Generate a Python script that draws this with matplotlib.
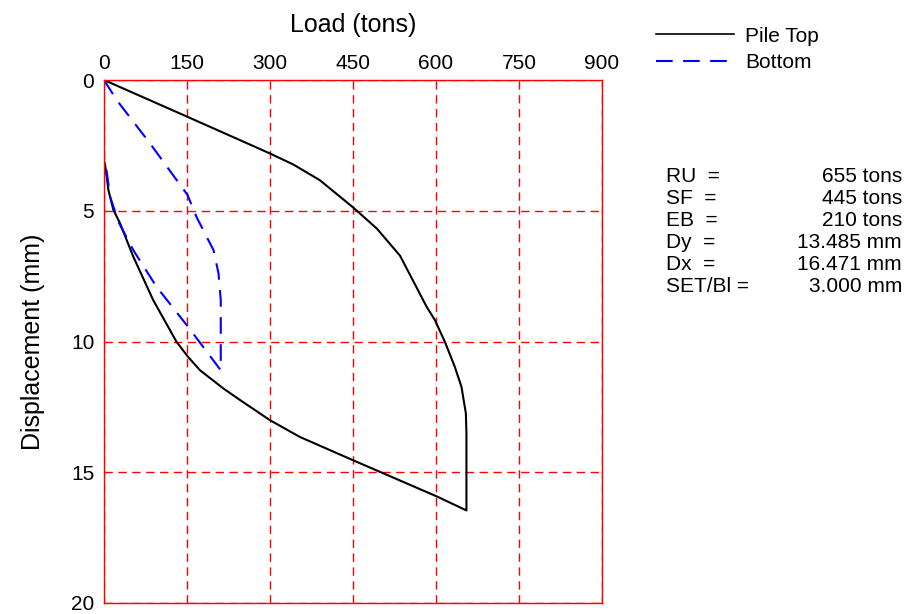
import matplotlib.pyplot as plt
import matplotlib.lines as mlines

plt.rcParams['font.family'] = ['Liberation Sans', 'DejaVu Sans']

# Pile Top curve (load in tons, displacement in mm)
top_load = [0, 150, 282, 302, 342, 390, 450, 493, 529, 535, 583, 598, 616, 634,
            646, 654, 655, 655,
            601, 450, 354, 300, 246, 216, 173.5, 152, 131, 89, 53, 29, 17, 8, 2, 0]
top_disp = [0, 1.40, 2.64, 2.83, 3.23, 3.83, 4.87, 5.68, 6.57, 6.72, 8.67, 9.18, 10.01, 10.97,
            11.73, 12.75, 13.52, 16.46,
            15.92, 14.54, 13.65, 13.01, 12.24, 11.8, 11.1, 10.59, 10.01, 8.42, 6.76, 5.48, 4.97, 4.21, 3.25, 3.1]

# Bottom curve
bot_load = [0, 23, 83, 151, 167, 198, 207, 211, 211,
            152, 95, 53, 26, 11, 2, 0]
bot_disp = [0, 0.77, 2.42, 4.40, 5.23, 6.51, 7.40, 8.42, 11.1,
            9.44, 7.91, 6.51, 5.42, 4.46, 3.06, 3.0]

x_ticks = [0, 150, 300, 450, 600, 750, 900]
y_ticks = [0, 5, 10, 15, 20]

stat_names = ["RU  =", "SF  =", "EB  =", "Dy  =", "Dx  =", "SET/Bl ="]
stat_values = ["655 tons", "445 tons", "210 tons", "13.485 mm", "16.471 mm", "3.000 mm"]

fig = plt.figure(figsize=(9.07, 6.14), dpi=100)
ax = fig.add_axes([104/907, 11/614, 498/907, 523/614])

ax.plot(top_load, top_disp, color='black', lw=1.5, label='Pile Top')
ax.plot(bot_load, bot_disp, color='blue', lw=1.5, dashes=(8, 5), label='Bottom')

ax.set_xlim(0, 900)
ax.set_ylim(20, 0)
ax.set_xticks(x_ticks)
ax.set_yticks(y_ticks)
ax.xaxis.tick_top()
ax.xaxis.set_label_position('top')
ax.tick_params(length=0, labelsize=15, pad=7)
ax.tick_params(axis='x', pad=5)
ax.set_xlabel('Load (tons)', fontsize=18, labelpad=16)
ax.set_ylabel('Displacement (mm)', fontsize=18, labelpad=19)

for s in ax.spines.values():
    s.set_color('red')
    s.set_linewidth(1)
ax.grid(True, color='red', lw=1, dashes=(6, 4))

h1 = mlines.Line2D([], [], color='black', lw=1.2)
h2 = mlines.Line2D([], [], color='blue', lw=1.5, dashes=(8, 5))
fig.legend([h1, h2], ['Pile Top', 'Bottom'], loc='upper left',
           bbox_to_anchor=(637/907, 1 - 8/614), frameon=False, fontsize=15,
           handlelength=3.75, handletextpad=0.55, labelspacing=0.35)

for i in range(len(stat_names)):
    y = 1 - (176 + 22.2 * i) / 614
    fig.text(666/907, y, stat_names[i], fontsize=15, va='center', ha='left')
    fig.text(902/907, y, stat_values[i], fontsize=15, va='center', ha='right')

fig.savefig('out.png', dpi=100)
